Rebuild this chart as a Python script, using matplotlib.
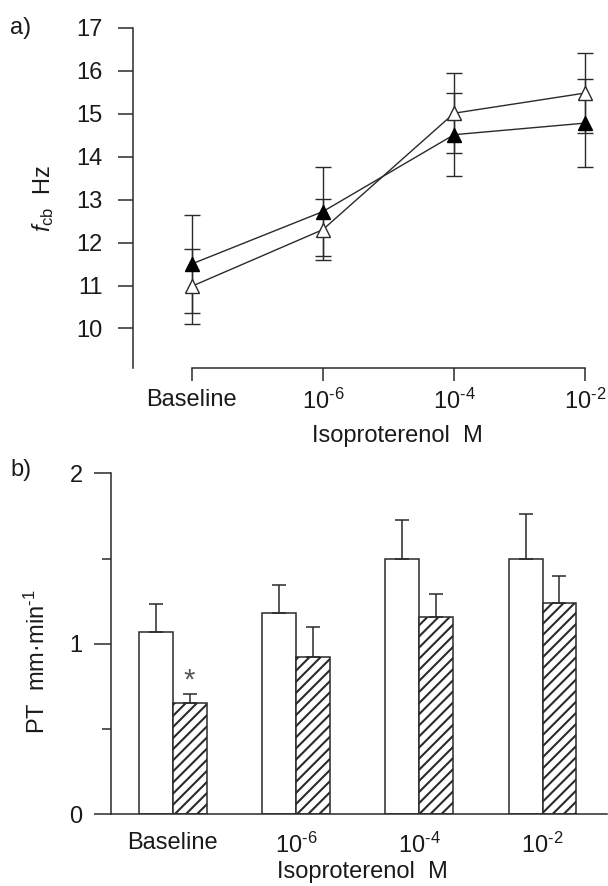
import matplotlib
matplotlib.use("Agg")
import matplotlib.pyplot as plt
from matplotlib import font_manager
import numpy as np

names = {f.name for f in font_manager.fontManager.ttflist}
FONT = "Liberation Sans Narrow" if "Liberation Sans Narrow" in names else "Liberation Sans"

plt.rcParams['font.family'] = [FONT, 'DejaVu Sans']
plt.rcParams['mathtext.fontset'] = 'custom'
plt.rcParams['mathtext.rm'] = FONT
plt.rcParams['mathtext.it'] = FONT + ':italic'
plt.rcParams['mathtext.bf'] = FONT + ':bold'
plt.rcParams['mathtext.sf'] = FONT
plt.rcParams['hatch.linewidth'] = 1.5
plt.rcParams['hatch.color'] = '#111111'

# ---------------- data ----------------
categories = ["Baseline", r"$10^{\text{-6}}$", r"$10^{\text{-4}}$", r"$10^{\text{-2}}$"]

# panel a: fcb (Hz), mean and SEM
fcb_filled = [11.50, 12.72, 14.51, 14.78]
fcb_filled_err = [1.14, 1.03, 0.97, 1.02]
fcb_open = [10.98, 12.30, 15.01, 15.48]
fcb_open_err = [0.87, 0.71, 0.93, 0.92]
a_yticks = [10, 11, 12, 13, 14, 15, 16, 17]

# panel b: PT (mm/min), mean and upper SEM
pt_white = [1.07, 1.18, 1.50, 1.50]
pt_white_err = [0.165, 0.165, 0.225, 0.26]
pt_hatched = [0.655, 0.925, 1.16, 1.24]
pt_hatched_err = [0.05, 0.175, 0.135, 0.16]
b_yticks = [0, 1, 2]
b_minor = [0.5, 1.5]

FS = 17
INK = '#2a2a2a'
TXT = '#1a1a1a'

fig = plt.figure(figsize=(6.08, 8.86), dpi=100)

# ---------------- panel a ----------------
A_L, A_R = 133, 598.5
ax1 = fig.add_axes([A_L/608, 1-368/886, (A_R-A_L)/608, (368-27.7)/886])
x = np.arange(len(categories))
ax1.errorbar(x, fcb_filled, yerr=fcb_filled_err, fmt='none', ecolor=INK,
             elinewidth=1.0, capsize=6, capthick=1.0, zorder=2)
ax1.errorbar(x, fcb_open, yerr=fcb_open_err, fmt='none', ecolor=INK,
             elinewidth=1.0, capsize=6, capthick=1.0, zorder=2)
ax1.plot(x, fcb_filled, '-', color=INK, lw=1.0, marker='^', ms=9.5,
         mfc='black', mec='black', mew=1.0, zorder=3)
ax1.plot(x, fcb_open, '-', color=INK, lw=1.0, marker='^', ms=9.5,
         mfc='white', mec=INK, mew=1.0, zorder=4)
ax1.set_xlim(-0.446, 3.1)
ax1.set_ylim(9.08, 17)
ax1.set_yticks(a_yticks)
ax1.set_xticks(x)
ax1.set_xticklabels(categories)
for s in ['top', 'right']:
    ax1.spines[s].set_visible(False)
for s in ['left', 'bottom']:
    ax1.spines[s].set_color(INK)
    ax1.spines[s].set_linewidth(1.1)
ax1.spines['bottom'].set_bounds(0, 3)
ax1.tick_params(axis='y', direction='out', length=11, width=1.1, color=INK,
                pad=11, labelsize=FS, labelcolor=TXT)
ax1.tick_params(axis='x', direction='out', length=9, width=1.1, color=INK,
                pad=6, labelsize=FS, labelcolor=TXT)
ax1.set_xlabel("Isoproterenol  M", fontsize=FS, color=TXT)
ax1.xaxis.set_label_coords((397-A_L)/(A_R-A_L), -(425-368)/340.3)
ax1.xaxis.label.set_va('top')
ax1.set_ylabel(r"$\mathit{f}_{\mathrm{cb}}$  Hz", fontsize=FS, color=TXT)
ax1.yaxis.set_label_coords(-(A_L-56)/(A_R-A_L), 0.5)
fig.text(10/608, 1-28/886, "a)", fontsize=FS, color=TXT, ha='left', va='center')

# ---------------- panel b ----------------
B_L, B_R = 110.5, 606.6
ax2 = fig.add_axes([B_L/608, 1-814.3/886, (B_R-B_L)/608, (814.3-473.3)/886])
w = 0.274
ax2.bar(x - w/2, pt_white, width=w, color='white', edgecolor=INK, linewidth=1.1,
        yerr=[np.zeros(4), pt_white_err], ecolor=INK,
        error_kw=dict(elinewidth=1.1, capsize=5, capthick=1.1), zorder=2)
ax2.bar(x + w/2, pt_hatched, width=w, color='white', edgecolor=INK, linewidth=1.1,
        hatch='///', yerr=[np.zeros(4), pt_hatched_err], ecolor=INK,
        error_kw=dict(elinewidth=1.1, capsize=5, capthick=1.1), zorder=2)
ax2.text(0 + w/2, pt_hatched[0] + pt_hatched_err[0] - 0.005, "*", ha='center',
         va='bottom', fontsize=21, color='#555555')
ax2.set_xlim(-0.505, 3.52)
ax2.set_ylim(0, 2)
ax2.set_yticks(b_yticks)
ax2.set_yticks(b_minor, minor=True)
ax2.set_xticks(x)
ax2.set_xticklabels(categories)
for s in ['top', 'right']:
    ax2.spines[s].set_visible(False)
for s in ['left', 'bottom']:
    ax2.spines[s].set_color(INK)
    ax2.spines[s].set_linewidth(1.1)
ax2.tick_params(axis='y', which='major', direction='out', length=12, width=1.1,
                color=INK, pad=8, labelsize=FS, labelcolor=TXT)
ax2.tick_params(axis='y', which='minor', direction='out', length=6.5, width=1.1,
                color=INK)
ax2.tick_params(axis='x', length=0, pad=13, labelsize=FS, labelcolor=TXT)
ax2.set_xlabel("Isoproterenol  M", fontsize=FS, color=TXT)
ax2.xaxis.set_label_coords((362-B_L)/(B_R-B_L), -(861-814.3)/341)
ax2.xaxis.label.set_va('top')
ax2.set_ylabel(r"PT  mm·min$^{\text{-1}}$", fontsize=FS, color=TXT)
ax2.yaxis.set_label_coords(-(B_L-50)/(B_R-B_L), (814.3-662)/341)
fig.text(10/608, 1-470/886, "b)", fontsize=FS, color=TXT, ha='left', va='center')

fig.savefig("out.png", dpi=100)
